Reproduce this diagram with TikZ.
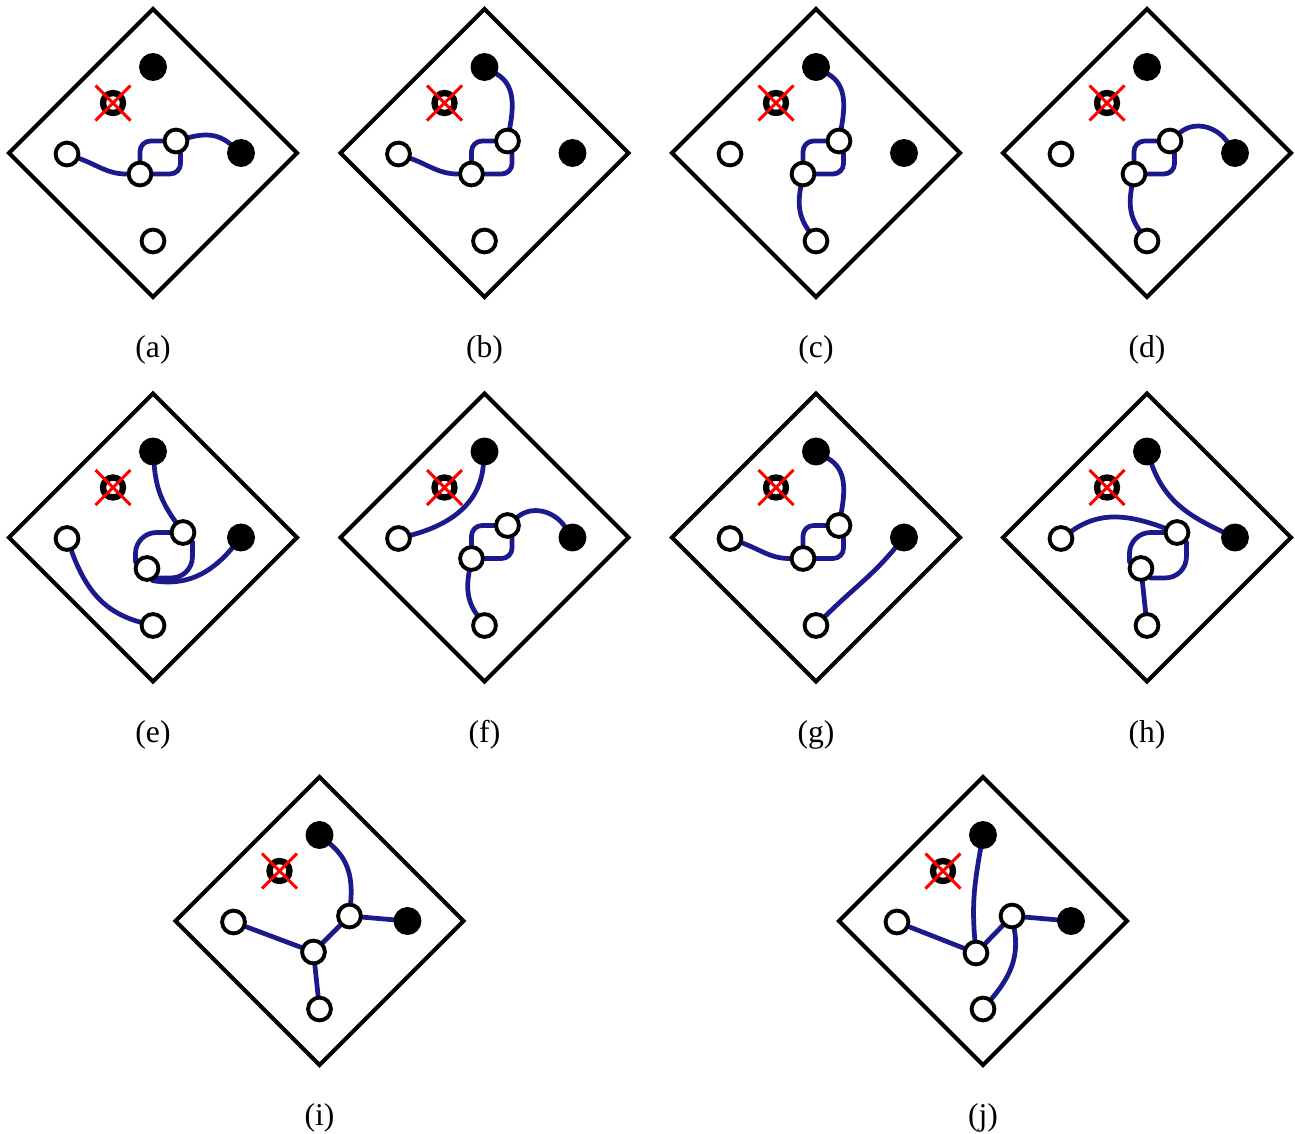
\documentclass[tikz,border=0pt]{standalone}
\usepackage{fontspec}
\setmainfont{Liberation Serif}
\usepackage{xcolor}
\usepackage{tikz}
\usetikzlibrary{positioning,backgrounds}
\definecolor{wireBlue}{HTML}{1A1A8C}
\definecolor{crossRed}{HTML}{FF0000}
\tikzset{
  boardframe/.style={draw=black, line width=2.3pt},
  opensite/.style ={circle, draw=black, fill=white, line width=2.2pt,
                    minimum size=0.456cm, inner sep=0pt},
  fullsite/.style ={circle, draw=black, fill=black, line width=2.2pt,
                    minimum size=0.48cm, inner sep=0pt},
  blocksite/.style={circle, draw=black, fill=white, line width=3.6pt,
                    minimum size=0.40cm, inner sep=0pt},
  crossmark/.style={draw=crossRed, line width=1.7pt},
  wire/.style     ={draw=wireBlue, line width=2.7pt, line cap=round},
  caplabel/.style ={font=\fontsize{18}{21}\selectfont, inner sep=0pt},
}
% one board: #1 name prefix, #2 centre, #3 caption, #4/#5 the two inner sites
\newcommand{\board}[5]{%
  \begin{scope}[shift={#2}]
    % frame
    \draw[boardframe] (0,144) -- (144,0) -- (0,-144) -- (-144,0) -- cycle;
    % fixed sites
    \node[fullsite]  (#1T) at (0,86)   {};
    \node[blocksite] (#1X) at (-40,50) {};
    \node[opensite]  (#1L) at (-86,-1) {};
    \node[fullsite]  (#1R) at (88,0)   {};
    \node[opensite]  (#1B) at (0,-88)  {};
    % inner sites
    \node[opensite]  (#1M) at #4 {};
    \node[opensite]  (#1N) at #5 {};
    % blocked site
    \draw[crossmark] (-57.5,67.5) -- (-22.5,32.5) (-57.5,32.5) -- (-22.5,67.5);
    \node[caplabel] (#1cap) at (0,-197) {#3};
  \end{scope}
}
% double link between the inner sites, square and round variant
\newcommand{\squareloop}[1]{%
  \draw[wire,rounded corners=6] (#1M) |- (#1N);
  \draw[wire,rounded corners=6] (#1N.-70) |- (#1M);
}
\newcommand{\roundloop}[1]{%
  \draw[wire,rounded corners=12] (#1N) -| (#1M.150);
  \draw[wire,rounded corners=12] (#1N.-45) |- (#1M.-45);
}

\begin{document}
\begin{tikzpicture}[x=0.02cm,y=0.02cm]

\useasboundingbox (0,0) rectangle (1295,-1133);

% --- geometry ---------------------------------------------------------------
\def\colA{153}
\def\colB{484.5}
\def\colC{816}
\def\colD{1147}
\def\rowA{-153}
\def\rowB{-537.5}
\def\rowC{-921}

\def\stdM{(-13,-21)}  % usual inner sites
\def\stdN{(23,12)}
\def\altM{(-6,-31)}   % shifted inner sites
\def\altN{(30,5)}

% --- boards -----------------------------------------------------------------
\board{a}{(\colA,\rowA)}{(a)}{\stdM}{\stdN}
\board{b}{(\colB,\rowA)}{(b)}{\stdM}{\stdN}
\board{c}{(\colC,\rowA)}{(c)}{\stdM}{\stdN}
\board{d}{(\colD,\rowA)}{(d)}{\stdM}{\stdN}
\board{e}{(\colA,\rowB)}{(e)}{\altM}{\altN}
\board{f}{(\colB,\rowB)}{(f)}{\stdM}{\stdN}
\board{g}{(\colC,\rowB)}{(g)}{\stdM}{\stdN}
\board{h}{(\colD,\rowB)}{(h)}{\altM}{\altN}
\board{i}{(319.5,\rowC)}{(i)}{\altM}{\altN}
\board{j}{(983,\rowC)}{(j)}{(-7,-32)}{(29,5)}

% --- wires ------------------------------------------------------------------
\begin{scope}[on background layer]
  % (a)
  \draw[wire] (aL) to[out=-20,in=180] (aM);
  \squareloop{a}
  \draw[wire] (aN) to[out=15,in=140] (aR);
  % (b)
  \draw[wire] (bL) to[out=-20,in=180] (bM);
  \squareloop{b}
  \draw[wire] (bT) to[out=-30,in=80] (bN);
  % (c)
  \draw[wire] (cT) to[out=-30,in=80] (cN);
  \squareloop{c}
  \draw[wire] (cM) to[out=-100,in=125] (cB);
  % (d)
  \squareloop{d}
  \draw[wire] (dN) to[out=40,in=125] (dR);
  \draw[wire] (dM) to[out=-100,in=125] (dB);
  % (e)
  \draw[wire] (eT) to[out=-85,in=125] (eN);
  \roundloop{e}
  \draw[wire] (eM.-65) to[out=-10,in=-130] (eR);
  \draw[wire] (eL) to[out=-70,in=165] (eB);
  % (f)
  \draw[wire] (fT) to[out=-95,in=15] (fL);
  \squareloop{f}
  \draw[wire] (fN) to[out=40,in=125] (fR);
  \draw[wire] (fM) to[out=-100,in=125] (fB);
  % (g)
  \draw[wire] (gT) to[out=-30,in=80] (gN);
  \draw[wire] (gL) to[out=-20,in=180] (gM);
  \squareloop{g}
  \draw[wire] (gB) to[out=45,in=-130] (gR);
  % (h)
  \draw[wire] (hT) to[out=-70,in=155] (hR);
  \draw[wire] (hL) to[out=35,in=160] (hN);
  \roundloop{h}
  \draw[wire] (hM) -- (hB);
  % (i)
  \draw[wire] (iT) to[out=-40,in=85] (iN);
  \draw[wire] (iN) -- (iR);
  \draw[wire] (iL) -- (iM);
  \draw[wire] (iM) -- (iN);
  \draw[wire] (iM) -- (iB);
  % (j)
  \draw[wire] (jT) to[out=-100,in=95] (jM);
  \draw[wire] (jL) -- (jM);
  \draw[wire] (jM) -- (jN);
  \draw[wire] (jN) -- (jR);
  \draw[wire] (jN) to[out=-80,in=50] (jB);
\end{scope}

\end{tikzpicture}
\end{document}
